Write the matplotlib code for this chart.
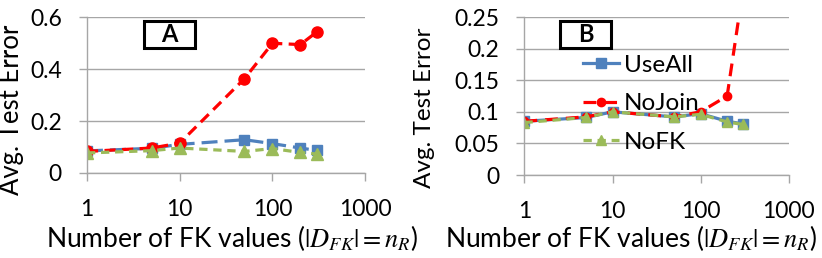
import matplotlib
matplotlib.use("Agg")
import matplotlib.pyplot as plt
from matplotlib.patches import Rectangle

plt.rcParams['font.family'] = ['Lato', 'DejaVu Sans']
plt.rcParams['mathtext.fontset'] = 'stix'

fk_values = [1, 5, 10, 50, 100, 200, 300]

# panel A
a_useall = [0.085, 0.095, 0.11, 0.128, 0.113, 0.096, 0.087]
a_nojoin = [0.083, 0.096, 0.115, 0.363, 0.499, 0.494, 0.542]
a_nofk = [0.077, 0.086, 0.096, 0.083, 0.094, 0.079, 0.073]

# panel B
b_useall = [0.085, 0.091, 0.100, 0.092, 0.097, 0.085, 0.081]
b_nojoin = [0.085, 0.092, 0.100, 0.092, 0.100, 0.125, 0.29]
b_nofk = [0.083, 0.091, 0.100, 0.092, 0.096, 0.084, 0.080]

series_names = ['UseAll', 'NoJoin', 'NoFK']
blue, red, green = '#4F81BD', '#FF0000', '#9BBB59'
grid_c = '#A6A6A6'
xlabel = r'Number of FK values ($|D_{FK}|=n_R$)'

fig = plt.figure(figsize=(8.22, 2.58), dpi=100)
axA = fig.add_axes([0.1058, 0.3295, 0.3384, 0.6045])
axB = fig.add_axes([0.638, 0.3217, 0.3215, 0.6123])


def style_axis(ax, ymax, yticks, ylabels, ylab_size):
    ax.set_xscale('log')
    ax.set_xlim(1, 1000)
    ax.set_ylim(0, ymax)
    ax.set_xticks([1, 10, 100, 1000])
    ax.set_xticklabels(['1', '10', '100', '1000'])
    ax.minorticks_off()
    ax.set_yticks(yticks)
    ax.set_yticklabels(ylabels)
    for s in ['top', 'right']:
        ax.spines[s].set_visible(False)
    for s in ['left', 'bottom']:
        ax.spines[s].set_color(grid_c)
        ax.spines[s].set_linewidth(1.0)
    ax.tick_params(axis='both', colors=grid_c, length=6, width=1.0,
                   labelcolor='black', labelsize=16.5)
    ax.tick_params(axis='x', pad=13)
    ax.tick_params(axis='y', pad=12)
    ax.grid(axis='y', color=grid_c, linewidth=1.0)
    ax.set_axisbelow(True)
    ax.set_xlabel(xlabel, fontsize=19)
    ax.set_ylabel('Avg. Test Error', fontsize=ylab_size)


style_axis(axA, 0.6, [0, 0.2, 0.4, 0.6], ['0', '0.2', '0.4', '0.6'], 18.5)
style_axis(axB, 0.25, [0, 0.05, 0.1, 0.15, 0.2, 0.25],
           ['0', '0.05', '0.1', '0.15', '0.2', '0.25'], 17.5)
axA.yaxis.set_label_coords(-0.227, 0.404)
axB.yaxis.set_label_coords(-0.34, 0.424)
axA.xaxis.set_label_coords(0.52, -0.32)
axB.xaxis.set_label_coords(0.403, -0.305)

lw = 2.3
# panel A lines (all dashed)
axA.plot(fk_values, a_useall, color=blue, lw=lw, dashes=(5, 2.2),
         marker='s', ms=7, label=series_names[0])
axA.plot(fk_values, a_nojoin, color=red, lw=lw, dashes=(3.5, 2),
         marker='o', ms=8, label=series_names[1])
axA.plot(fk_values, a_nofk, color=green, lw=lw, dashes=(2.6, 1.8),
         marker='^', ms=8, label=series_names[2])

# panel B lines
axB.plot(fk_values, b_useall, color=blue, lw=lw,
         marker='s', ms=7, label=series_names[0])
axB.plot(fk_values, b_nojoin, color=red, lw=lw, dashes=(4, 2.5),
         marker='o', ms=6, label=series_names[1])
axB.plot(fk_values, b_nofk, color=green, lw=lw, dashes=(2.6, 1.8),
         marker='^', ms=7, label=series_names[2])

leg = axB.legend(loc='upper left', bbox_to_anchor=(0.221, 0.76), frameon=False,
                 fontsize=17.5, handlelength=1.5, handletextpad=0.2,
                 labelspacing=0.72, borderaxespad=0, borderpad=0)

# panel tags
for x0, tag in [(0.1752, 'A'), (0.6813, 'B')]:
    fig.patches.append(Rectangle((x0, 0.814), 0.062, 0.1047, transform=fig.transFigure,
                                 fill=True, facecolor='white', edgecolor='black',
                                 linewidth=2.2, zorder=5))
    fig.text(x0 + 0.031, 0.814 + 0.0523, tag, ha='center', va='center',
             fontsize=17, fontweight='bold', zorder=6)

fig.savefig('out.png', dpi=100)
